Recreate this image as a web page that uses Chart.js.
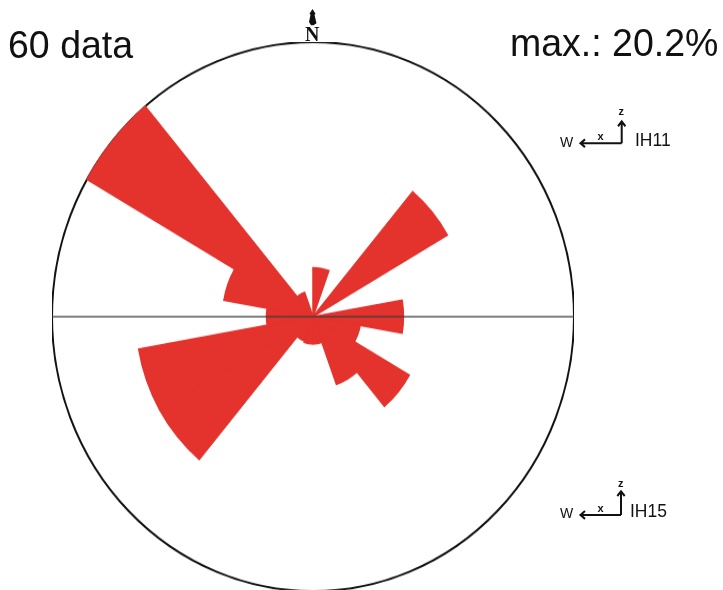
<!DOCTYPE html>
<html>
<head>
<meta charset="utf-8">
<script src="https://cdn.jsdelivr.net/npm/chart.js@4.4.1/dist/chart.umd.min.js"></script>
<style>
    html, body { margin: 0; padding: 0; background: #fff; overflow: hidden; }
    body { width: 723px; height: 590px; position: relative; }
    #page {
        position: absolute; left: 0; top: 0; width: 723px; height: 561px;
        transform: scaleY(1.052); transform-origin: 0 0;
        font-family: "Liberation Sans", Arial, sans-serif; color: #111;
    }
    #rose { position: absolute; left: 51.5px; top: 40px; }
    .big { position: absolute; font-size: 37.5px; line-height: 37.5px; white-space: nowrap; }
    .small { position: absolute; font-size: 14px; line-height: 14px; white-space: nowrap; }
    .well { position: absolute; font-size: 17.5px; line-height: 17.5px; white-space: nowrap; }
    .ax { position: absolute; font-size: 11px; line-height: 11px; font-weight: bold; }
    #north { position: absolute; left: 305px; top: 22px; font-family: "Liberation Serif", serif; font-size: 20px; line-height: 20px; font-weight: bold; }
    svg { position: absolute; left: 0; top: 0; }
</style>
</head>
<body>
<div id="page">
    <canvas id="rose" width="522" height="522"></canvas>
    <div class="big" id="count" style="left:8px; top:24px;"></div>
    <div class="big" id="maxLabel" style="left:510px; top:22px;"></div>

    <div id="north">N</div>

    <svg width="723" height="561">
        <!-- north marker above the N -->
        <path d="M312.5 8.5 L315.5 13 L314.5 14 L316.5 22 L313.5 24 L311 24 L309 21 L310.5 14 L309.5 13 Z" fill="#111"/>
        <!-- IH11 axes -->
        <g stroke="#111" stroke-width="2" fill="none">
            <path d="M621.7 136.2 L581 136.2 M585 132.5 L580.5 136.2 L585 139.9"/>
            <path d="M621.7 136.2 L621.7 116 M618 120 L621.7 115.5 L625.4 120"/>
        </g>
        <!-- IH15 axes -->
        <g stroke="#111" stroke-width="2" fill="none">
            <path d="M621 489.5 L581 489.5 M585 485.8 L580.5 489.5 L585 493.2"/>
            <path d="M621 489.5 L621 467.5 M617.3 471.5 L621 467 L624.7 471.5"/>
        </g>
    </svg>

    <div class="small" style="left:560px; top:127.5px;">W</div>
    <div class="ax" style="left:597.5px; top:124px;">x</div>
    <div class="ax" style="left:618.5px; top:100px;">z</div>
    <div class="well" style="left:635px; top:124.5px;">IH11</div>

    <div class="small" style="left:560px; top:479.5px;">W</div>
    <div class="ax" style="left:597.5px; top:477.5px;">x</div>
    <div class="ax" style="left:618px; top:453.5px;">z</div>
    <div class="well" style="left:630px; top:476.5px;">IH15</div>
</div>

<script>
// 20° direction bins, clockwise from north
const bins = ['0-20', '20-40', '40-60', '60-80', '80-100', '100-120', '120-140', '140-160', '160-180',
              '180-200', '200-220', '220-240', '240-260', '260-280', '280-300', '300-320', '320-340', '340-360'];
const percent = [3.6, 0, 12.0, 0, 7.0, 3.7, 8.6, 5.3, 2.0, 2.0, 1.9, 13.7, 13.7, 3.6, 7.0, 20.2, 1.9, 0];
const nData = 60;
const maxPercent = 20.2;

document.getElementById('count').textContent = nData + ' data';
document.getElementById('maxLabel').textContent = 'max.: ' + maxPercent + '%';

const red = '#e4322d';

// thin E-W line through the centre, over the petals
const ewLine = {
    id: 'ewLine',
    afterDatasetsDraw(chart) {
        const r = chart.scales.r;
        const c = chart.ctx;
        c.save();
        c.strokeStyle = 'rgba(60, 60, 60, 0.85)';
        c.lineWidth = 1.4;
        c.beginPath();
        c.moveTo(r.xCenter - r.drawingArea, r.yCenter);
        c.lineTo(r.xCenter + r.drawingArea, r.yCenter);
        c.stroke();
        c.restore();
    }
};

const ctx = document.getElementById('rose').getContext('2d');
new Chart(ctx, {
    type: 'polarArea',
    data: {
        labels: bins,
        datasets: [{
            data: percent,
            backgroundColor: red,
            borderColor: red,
            borderWidth: 1.5,
            borderJoinStyle: 'miter'
        }]
    },
    options: {
        responsive: false,
        animation: false,
        layout: { padding: 0 },
        plugins: {
            legend: { display: false },
            tooltip: { enabled: false }
        },
        scales: {
            r: {
                min: 0,
                max: maxPercent,
                startAngle: 0,
                ticks: { display: false, stepSize: maxPercent },
                grid: { color: '#111', lineWidth: 2 },
                angleLines: { display: false },
                pointLabels: { display: false }
            }
        }
    },
    plugins: [ewLine]
});
</script>
</body>
</html>
